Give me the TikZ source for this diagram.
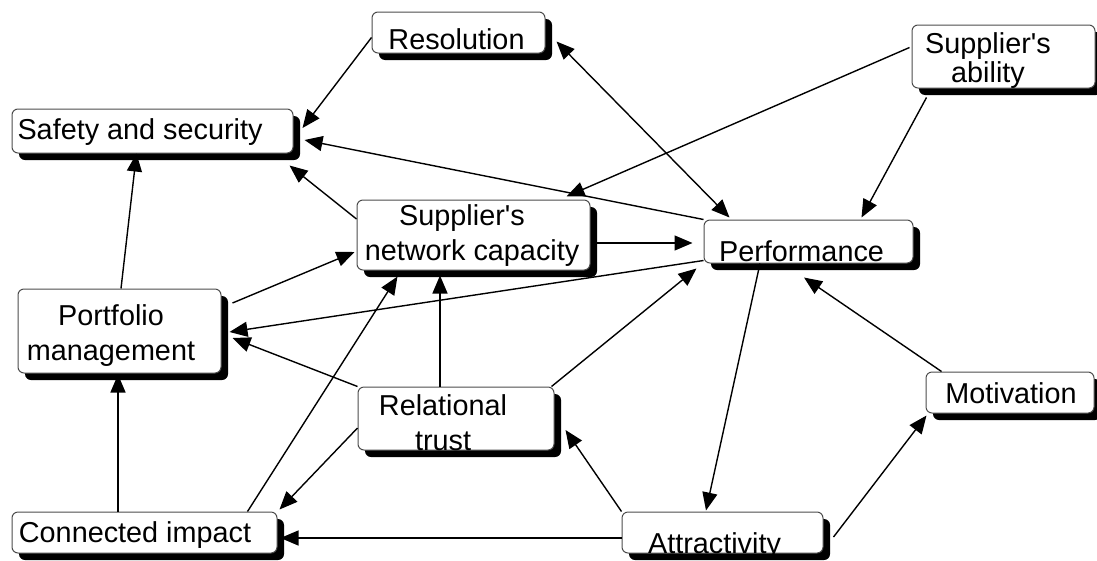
\documentclass[tikz,border=0pt]{standalone}
\usepackage{fontspec}
\setmainfont{Liberation Sans}
\usetikzlibrary{arrows.meta,shadows}

\begin{document}
\begin{tikzpicture}[x=1pt,y=-1pt]
\tikzstyle{factor}=[rectangle,draw=black!70,line width=1pt,rounded corners=6pt,fill=white,inner sep=0pt,
  drop shadow={shadow xshift=7pt,shadow yshift=-7pt,opacity=1,fill=black}]
\tikzstyle{factortext}=[inner sep=0pt,anchor=base,font=\fontsize{28.8}{35}\selectfont]
\tikzstyle{every path}=[line width=1.4pt,>={Triangle[length=18pt,width=15pt]}]
\useasboundingbox (0,0) rectangle (1097,560);

% boxes
\node[factor,minimum width=173,minimum height=41] (res) at (458.5,32.5) {};
\node[factor,minimum width=281,minimum height=44] (safe) at (152.5,131) {};
\node[factor,minimum width=183,minimum height=63] (abil) at (1003.5,56.5) {};
\node[factor,minimum width=209,minimum height=43] (perf) at (808.5,241.5) {};
\node[factor,minimum width=233,minimum height=70] (net) at (473.5,235) {};
\node[factor,minimum width=203,minimum height=84] (port) at (119.5,331) {};
\node[factor,minimum width=196,minimum height=63] (trust) at (456,418.5) {};
\node[factor,minimum width=265,minimum height=41] (conn) at (144.5,532.5) {};
\node[factor,minimum width=201,minimum height=41] (attr) at (722.5,532.5) {};
\node[factor,minimum width=168,minimum height=41] (motiv) at (1010,392.5) {};

% links
\draw[->] ([shift={(0,5)}]res.west) -- ([shift={(9,-3)}]safe.east);
\draw[<->] ([shift={(26,-2)}]perf.north west) -- ([shift={(11,9)}]res.east);
\draw[->] (perf.north west) -- ([shift={(11,9)}]safe.east);
\draw[->] ([shift={(0,-16)}]net.west) -- ([shift={(-4,12)}]safe.south east);
\draw[->] ([shift={(-2,-9)}]abil.west) -- ([shift={(-24,-3)}]net.north east);
\draw[->] ([shift={(15,9)}]abil.south west) -- ([shift={(-52,-2)}]perf.north east);
\draw[->] ([shift={(0,8)}]net.east) -- ([shift={(-11,1.5)}]perf.west);
\draw[->] ([shift={(0,-3)}]perf.south west) -- ([shift={(8,1)}]port.east);
\draw[->] (trust.north west) -- ([shift={(11,7)}]port.east);
\draw[->] ([shift={(11,-28)}]port.east) -- ([shift={(-2,17)}]net.west);
\draw[->] ([shift={(-16,0)}]trust.north) -- ([shift={(-33.5,5)}]net.south);
\draw[->] ([shift={(-30,0)}]conn.north east) -- ([shift={(41,6)}]net.south west);
\draw[->] ([shift={(0,9.5)}]trust.west) -- ([shift={(2,-2)}]conn.north east);
\draw[->] ([shift={(-26.5,0)}]conn.north) -- ([shift={(-1.5,1)}]port.south);
\draw[->] ([shift={(1.5,0)}]port.north) -- ([shift={(-16,0)}]safe.south);
\draw[->] ([shift={(-3,0)}]trust.north east) -- ([shift={(-7,5)}]perf.south west);
\draw[->] ([shift={(-48.5,0)}]perf.south) -- ([shift={(-16.5,-1)}]attr.north);
\draw[->] ([shift={(16,0)}]motiv.north west) -- ([shift={(-4.5,14)}]perf.south);
\draw[->] ([shift={(10,4.5)}]attr.east) -- ([shift={(1,2)}]motiv.south west);
\draw[->] (attr.north west) -- ([shift={(11,11.5)}]trust.east);
\draw[->] ([shift={(0,5.5)}]attr.west) -- ([shift={(3,5.5)}]conn.east);

% texts
\node[factortext] (res-t) at (456.5,49) {Resolution};
\node[factortext] (safe-t) at (140,139) {Safety and security};
\node[factortext] (abil-t) at (988,53) {\begin{tabular}[t]{@{}c@{}}Supplier\textquotesingle s\\[-6pt]ability\end{tabular}};
\node[factortext] (perf-t) at (801.5,261) {Performance};
\node[factortext] (net-t) at (472,225) {\begin{tabular}[t]{@{}c@{}}Supplier\textquotesingle s\hspace*{20pt}\\network capacity\end{tabular}};
\node[factortext] (port-t) at (111,325) {\begin{tabular}[t]{@{}c@{}}Portfolio\\management\end{tabular}};
\node[factortext] (trust-t) at (443,415) {\begin{tabular}[t]{@{}c@{}}Relational\\trust\end{tabular}};
\node[factortext] (conn-t) at (135,542) {Connected impact};
\node[factortext] (attr-t) at (714.5,553) {Attractivity};
\node[factortext] (motiv-t) at (1011,403) {Motivation};
\end{tikzpicture}
\end{document}
